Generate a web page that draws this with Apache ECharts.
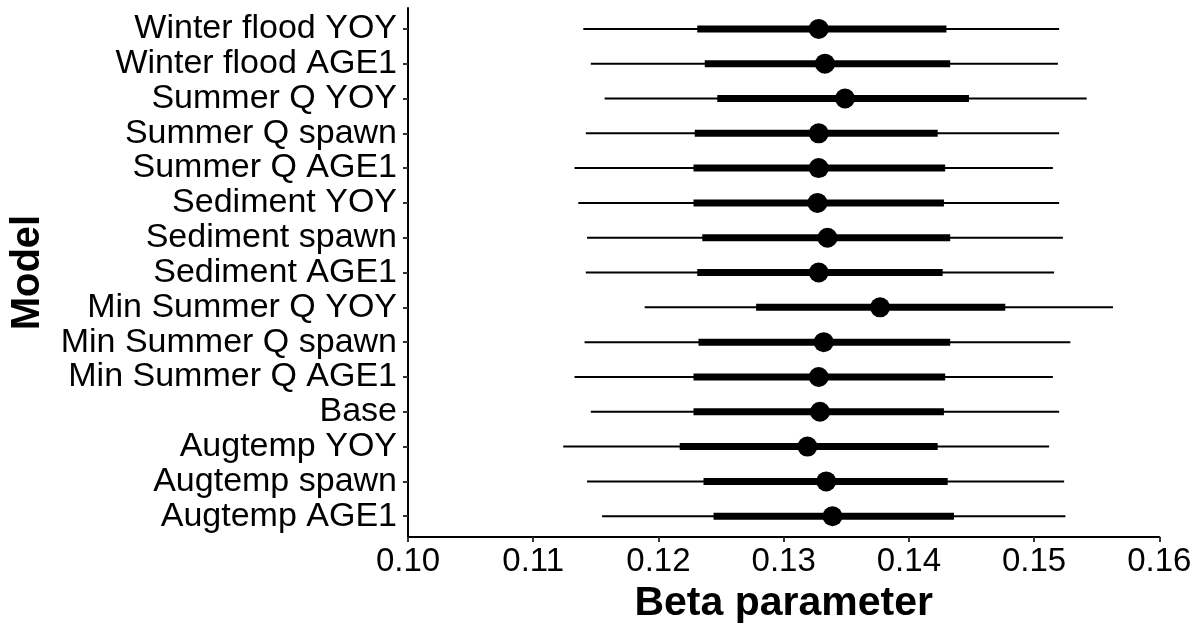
<!DOCTYPE html>
<html>
<head>
<meta charset="utf-8">
<script src="https://cdn.jsdelivr.net/npm/echarts@6/dist/echarts.min.js"></script>
<style>
html,body{margin:0;padding:0;background:#fff;}
#chart{width:1204px;height:629px;}
</style>
</head>
<body>
<div id="chart"></div>
<script>
// Models listed top to bottom as in the figure
var models = ["Winter flood YOY","Winter flood AGE1","Summer Q YOY","Summer Q spawn","Summer Q AGE1","Sediment YOY","Sediment spawn","Sediment AGE1","Min Summer Q YOY","Min Summer Q spawn","Min Summer Q AGE1","Base","Augtemp YOY","Augtemp spawn","Augtemp AGE1"];
var lo95 = [0.1140,0.1146,0.1157,0.1142,0.1133,0.1136,0.1143,0.1142,0.1189,0.1141,0.1133,0.1146,0.1124,0.1143,0.1155];
var lo50 = [0.1231,0.1237,0.1247,0.1229,0.1228,0.1228,0.1235,0.1231,0.1278,0.1232,0.1228,0.1228,0.1217,0.1236,0.1244];
var med  = [0.1328,0.1333,0.1349,0.1328,0.1328,0.1327,0.1335,0.1328,0.1377,0.1332,0.1328,0.1329,0.1319,0.1334,0.1339];
var hi50 = [0.1430,0.1433,0.1448,0.1423,0.1429,0.1428,0.1433,0.1427,0.1477,0.1433,0.1429,0.1428,0.1423,0.1431,0.1436];
var hi95 = [0.1520,0.1519,0.1542,0.1520,0.1515,0.1520,0.1523,0.1516,0.1563,0.1529,0.1515,0.1520,0.1512,0.1524,0.1525];
var xTicks = [0.10,0.11,0.12,0.13,0.14,0.15,0.16];

var n = models.length;
var rowIdx = [];
for (var i = 0; i < n; i++) rowIdx.push(i);
// index 0 at bottom
var data = models.map(function(m, i){
  return [n - 1 - i, lo95[i], lo50[i], med[i], hi50[i], hi95[i]];
});

var FONT = "'Liberation Sans', Arial, sans-serif";
var chart = echarts.init(document.getElementById('chart'), null, {renderer:'canvas'});
chart.setOption({
  animation:false,
  backgroundColor:'#ffffff',
  grid:{left:405.5, right:44.7, top:8, bottom:85.7, containLabel:false},
  xAxis:{
    type:'value', min:xTicks[0], max:xTicks[xTicks.length-1], interval:0.01,
    name:'Beta parameter', nameLocation:'middle', nameGap:44,
    nameTextStyle:{fontFamily:FONT, fontSize:41, fontWeight:'bold', color:'#000'},
    axisLine:{show:true, onZero:false, lineStyle:{color:'#000', width:2}},
    axisTick:{show:true, length:5, lineStyle:{color:'#333', width:2}},
    axisLabel:{fontFamily:FONT, fontSize:33, color:'#000', margin:8,
      formatter:function(v){return v.toFixed(2);}},
    splitLine:{show:false}
  },
  yAxis:{
    type:'value', min:-0.6, max:n - 1 + 0.6,
    name:'Model', nameLocation:'middle', nameGap:360, nameRotate:90,
    nameTextStyle:{fontFamily:FONT, fontSize:40, fontWeight:'bold', color:'#000'},
    axisLine:{show:true, onZero:false, lineStyle:{color:'#000', width:2}},
    axisTick:{show:true, length:5, customValues:rowIdx, lineStyle:{color:'#333', width:2}},
    axisLabel:{fontFamily:FONT, fontSize:34, color:'#000', margin:11, customValues:rowIdx,
      formatter:function(v){ var k = n - 1 - Math.round(v); return models[k] || ''; }},
    splitLine:{show:false}
  },
  series:[{
    type:'custom',
    data:data,
    encode:{x:[1,2,3,4,5], y:0},
    renderItem:function(params, api){
      var y = api.value(0);
      var a = api.coord([api.value(1), y]);
      var b = api.coord([api.value(2), y]);
      var c = api.coord([api.value(3), y]);
      var d = api.coord([api.value(4), y]);
      var e = api.coord([api.value(5), y]);
      return {type:'group', children:[
        {type:'line', shape:{x1:a[0], y1:a[1], x2:e[0], y2:e[1]}, style:{stroke:'#000', lineWidth:2}},
        {type:'line', shape:{x1:b[0], y1:b[1], x2:d[0], y2:d[1]}, style:{stroke:'#000', lineWidth:7}},
        {type:'circle', shape:{cx:c[0], cy:c[1], r:10}, style:{fill:'#000'}}
      ]};
    }
  }]
});
</script>
</body>
</html>
